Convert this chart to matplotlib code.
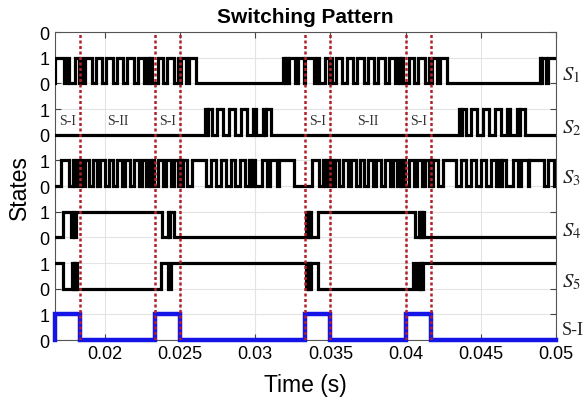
import matplotlib
matplotlib.use('Agg')
import matplotlib.pyplot as plt

# ---------------- data ----------------
t_start = 0.016667
t_end = 0.05

xticks = [0.02, 0.025, 0.03, 0.035, 0.04, 0.045, 0.05]
xtick_labels = ['0.02', '0.025', '0.03', '0.035', '0.04', '0.045', '0.05']
yticks = list(range(13))
ytick_labels = ['0', '1', '0', '1', '0', '1', '0', '1', '0', '1', '0', '1', '0']

signal_names = ['$S_1$', '$S_2$', '$S_3$', '$S_4$', '$S_5$', 'S-I']
signal_base = [10, 8, 6, 4, 2, 0]

s1_init = 0
s1_edges = [0.016667, 0.017263, 0.017461, 0.017594, 0.017991, 0.018256, 0.018342, 0.018454,
            0.018686, 0.019116, 0.019447, 0.019845, 0.020109, 0.020573, 0.020838, 0.021235,
            0.021500, 0.021963, 0.022228, 0.022625, 0.022824, 0.022956, 0.023022, 0.023155,
            0.023552, 0.023883, 0.024148, 0.024611, 0.024876, 0.025008, 0.025074, 0.025405,
            0.025604, 0.026067, 0.031827, 0.031959, 0.032025, 0.032158, 0.032224, 0.032621,
            0.032820, 0.033217,
            0.033333, 0.033929, 0.034127, 0.034260, 0.034657, 0.034922, 0.035008, 0.035120,
            0.035352, 0.035782, 0.036113, 0.036511, 0.036775, 0.037239, 0.037504, 0.037901,
            0.038166, 0.038629, 0.038894, 0.039291, 0.039490, 0.039622, 0.039688, 0.039821,
            0.040218, 0.040549, 0.040814, 0.041277, 0.041542, 0.041674, 0.041740, 0.042071,
            0.042270, 0.042733, 0.048939, 0.049005, 0.049071, 0.049336, 0.049469]

s2_init = 0
s2_edges = [0.026683, 0.026815, 0.026881, 0.027146, 0.027477, 0.027875, 0.028272, 0.028669,
            0.029066, 0.029463, 0.029861, 0.030059, 0.030523, 0.030655, 0.030721, 0.031052,
            0.043549, 0.043681, 0.043747, 0.044012, 0.044343, 0.044741, 0.045138, 0.045535,
            0.045932, 0.046329, 0.046727, 0.046925, 0.047389, 0.047521, 0.047587, 0.047918]

s3_init = 0
s3_edges = [0.017104, 0.017594, 0.017859, 0.017958, 0.018057, 0.018190, 0.018388, 0.018488,
            0.018653, 0.018918, 0.019183, 0.019514, 0.019712, 0.020043, 0.020308, 0.020573,
            0.020838, 0.021169, 0.021367, 0.021698, 0.021963, 0.022294, 0.022493, 0.022757,
            0.022956, 0.023088, 0.023155, 0.023287, 0.023552, 0.023883, 0.024081, 0.024412,
            0.024611, 0.024876, 0.025008, 0.025108, 0.025174, 0.025472, 0.025803, 0.026703,
            0.027034, 0.027365, 0.027696, 0.028027, 0.028358, 0.028689, 0.029020, 0.029351,
            0.029576, 0.029708, 0.029775, 0.030013, 0.030456, 0.030787, 0.031006, 0.031449,
            0.031562, 0.032555,
            0.033770, 0.034260, 0.034525, 0.034624, 0.034723, 0.034856, 0.035054, 0.035154,
            0.035319, 0.035584, 0.035849, 0.036180, 0.036378, 0.036709, 0.036974, 0.037239,
            0.037504, 0.037835, 0.038033, 0.038364, 0.038629, 0.038960, 0.039159, 0.039423,
            0.039622, 0.039754, 0.039821, 0.039953, 0.040218, 0.040549, 0.040747, 0.041078,
            0.041277, 0.041542, 0.041674, 0.041774, 0.041840, 0.042138, 0.042469, 0.043369,
            0.043700, 0.044031, 0.044362, 0.044693, 0.045024, 0.045355, 0.045686, 0.046017,
            0.046242, 0.046374, 0.046441, 0.046679, 0.047122, 0.047453, 0.047672, 0.048115,
            0.048228, 0.049221, 0.049500, 0.049880]

s4_init = 0
s4_edges = [0.017217, 0.017746, 0.017912, 0.017978, 0.018077, 0.023773, 0.024169, 0.024269,
            0.024335, 0.024633,
            0.033356, 0.033422, 0.033488, 0.033554, 0.033620, 0.033687, 0.034190, 0.040641,
            0.040892, 0.040958, 0.041024, 0.041090, 0.041156, 0.041255]

s5_init = 1
s5_edges = [0.017237, 0.017793, 0.017879, 0.017945, 0.018011, 0.018077, 0.018164, 0.023753,
            0.024190, 0.024415,
            0.033356, 0.033422, 0.033488, 0.033554, 0.033620, 0.033687, 0.034190, 0.040508,
            0.040707, 0.040892, 0.040958, 0.041024, 0.041090, 0.041156]

si_init = 0
si_edges = [0.016667, 0.018333, 0.023333, 0.025000, 0.033333, 0.035000, 0.040000, 0.041667]

boundaries = [0.018333, 0.023333, 0.025000, 0.033333, 0.035000, 0.040000, 0.041667]
region_names = ['S-I', 'S-II', 'S-I', 'S-I', 'S-II', 'S-I']
region_spans = [(t_start, 0.018333), (0.018333, 0.023333), (0.023333, 0.025000),
                (0.033333, 0.035000), (0.035000, 0.040000), (0.040000, 0.041667)]


def to_steps(init, edges):
    xs = [t_start] + list(edges) + [t_end]
    ys = [init]
    s = init
    for _ in edges:
        s = 1 - s
        ys.append(s)
    ys.append(s)
    return xs, ys


# ---------------- figure ----------------
plt.rcParams['font.family'] = ['Liberation Sans', 'DejaVu Sans']
plt.rcParams['mathtext.fontset'] = 'stix'

fig = plt.figure(figsize=(5.86, 4.06), dpi=100)
ax = fig.add_axes([0.0933, 0.160, 0.8555, 0.7587])

all_inits = [s1_init, s2_init, s3_init, s4_init, s5_init, si_init]
all_edges = [s1_edges, s2_edges, s3_edges, s4_edges, s5_edges, si_edges]

for i, (init, edges, base) in enumerate(zip(all_inits, all_edges, signal_base)):
    xs, ys = to_steps(init, edges)
    ys = [v + base for v in ys]
    if i == 5:
        ax.plot(xs, ys, drawstyle='steps-post', color='#1414e6', lw=3.2,
                zorder=3, clip_on=False, solid_joinstyle='miter')
    else:
        ax.plot(xs, ys, drawstyle='steps-post', color='black', lw=2.3,
                zorder=3, solid_joinstyle='miter')

for b in boundaries:
    ax.axvline(b, color='#b3202a', lw=1.8, ls=(0, (1.2, 1.0)), zorder=4)

for name, (a, b) in zip(region_names, region_spans):
    ax.text((a + b) / 2, signal_base[1] + 0.55, name, ha='center', va='center',
            fontsize=10, family=['Liberation Serif', 'DejaVu Serif'],
            color='#333333', zorder=2)

label_offsets = [0.36, 0.30, 0.35, 0.25, 0.27, 0.43]
for name, base, off in zip(signal_names, signal_base, label_offsets):
    ax.text(1.012, base + off, name, transform=ax.get_yaxis_transform(),
            ha='left', va='center', fontsize=15 if name.startswith('$') else 13,
            family=['Liberation Serif', 'DejaVu Serif'], color='#222222')

ax.set_xlim(t_start, t_end)
ax.set_ylim(0, 12)
ax.set_xticks(xticks)
ax.set_xticklabels(xtick_labels)
ax.set_yticks(yticks)
ax.set_yticklabels(ytick_labels)
ax.tick_params(direction='in', top=True, right=True, labelsize=13, length=4,
               width=0.8, color='#444444')
ax.grid(True, color='#e3e3e3', lw=0.8, zorder=0)
ax.set_axisbelow(True)
for sp in ax.spines.values():
    sp.set_color('#555555')
    sp.set_linewidth(0.8)

ax.set_title('Switching Pattern', fontsize=15, fontweight='bold', pad=7)
ax.set_xlabel('Time (s)', fontsize=16.5, labelpad=8)
ax.set_ylabel('States', fontsize=16.5, labelpad=6)

fig.savefig('out.png', dpi=100)
